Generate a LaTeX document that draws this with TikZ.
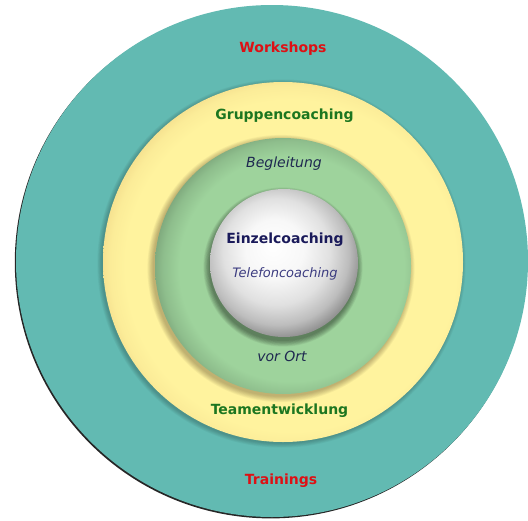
\documentclass[tikz,border=0pt]{standalone}
\usepackage{fontspec}
\setmainfont{DejaVu Sans}
\definecolor{tealc}{RGB}{98,186,178}
\definecolor{yellc}{RGB}{255,243,158}
\definecolor{grnc}{RGB}{158,211,156}
\definecolor{redtxt}{RGB}{222,16,20}
\definecolor{grntxt}{RGB}{28,118,32}
\definecolor{navytxt}{RGB}{26,26,90}
\definecolor{itxt}{RGB}{30,40,80}
\definecolor{teltxt}{RGB}{60,60,128}
\pgfdeclareradialshading{spheresh}{\pgfpoint{-4bp}{6bp}}{%
  color(0bp)=(white); color(10bp)=(white!97!black); color(18bp)=(white!88!black);
  color(24bp)=(white!74!black); color(29bp)=(white!52!black); color(33bp)=(white!45!black);
  color(50bp)=(white!45!black)}
\pgfdeclareradialshading{greensh}{\pgfpoint{3bp}{-1bp}}{%
  color(0bp)=(grnc); color(22bp)=(grnc); color(25bp)=(grnc!90!black);
  color(28bp)=(grnc!72!black); color(50bp)=(grnc!72!black)}
\pgfdeclareradialshading{yellsh}{\pgfpoint{2bp}{-1bp}}{%
  color(0bp)=(yellc); color(23bp)=(yellc); color(25bp)=(yellc!94!brown);
  color(27bp)=(yellc!78!brown); color(50bp)=(yellc!78!brown)}
\tikzset{
  boldlabel/.style={font=\bfseries\fontsize{14}{16}\selectfont, anchor=base},
  itlabel/.style={font=\itshape\fontsize{14}{16}\selectfont, anchor=base, text=itxt},
}
\begin{document}
\begin{tikzpicture}[x=1pt,y=-1pt]
\useasboundingbox (0,0) rectangle (528,520);
% outer teal disk with dark rim at lower left
\fill[black!85] (270.8,262.4) circle (256);
\fill[tealc] (272,261) circle (256);
% shadow of yellow disk
\foreach \i in {0,...,6}
  \fill[black,opacity=0.03] (281.5,263.5) circle (180+\i*0.7);
\shade[shading=yellsh] (283,262) circle (180);
% shadow of green disk on yellow
\foreach \i in {0,...,8}
  \fill[black!70!brown,opacity=0.04] (281,268.5) circle (128+\i*0.7);
\shade[shading=greensh] (283,266) circle (128);
% shadow of sphere
\foreach \i in {0,...,8}
  \fill[black,opacity=0.05] (283,267) circle (74+\i*0.7);
\shade[shading=spheresh] (284,263) circle (74);
% labels
\node[boldlabel, text=redtxt] (workshops) at (283,52) {Workshops};
\node[boldlabel, text=grntxt] (gruppen) at (284.5,119) {Gruppencoaching};
\node[itlabel] (begleitung) at (284,167) {Begleitung};
\node[boldlabel, text=navytxt] (einzel) at (285,243.5) {Einzelcoaching};
\node[itlabel, text=teltxt, font=\itshape\fontsize{13}{15}\selectfont] (telefon) at (285,277) {Telefoncoaching};
\node[itlabel] (vorort) at (282,361) {vor Ort};
\node[boldlabel, text=grntxt] (team) at (279.5,414) {Teamentwicklung};
\node[boldlabel, text=redtxt] (trainings) at (281,484) {Trainings};
\end{tikzpicture}
\end{document}
